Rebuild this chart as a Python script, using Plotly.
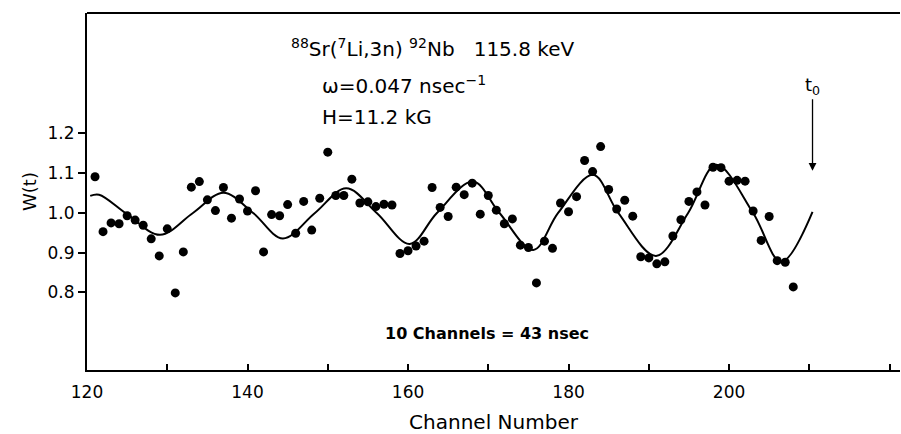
import plotly.graph_objects as go

# Measured data points W(t) vs channel number
channels = list(range(121, 209))
w_values = [
    1.091, 0.953, 0.975, 0.973, 0.993, 0.982, 0.969, 0.935, 0.892, 0.960,  # 121-130
    0.799, 0.902, 1.065, 1.079, 1.033, 1.006, 1.064, 0.987, 1.035, 1.005,  # 131-140
    1.056, 0.902, 0.996, 0.993, 1.021, 0.949, 1.029, 0.957, 1.037, 1.153,  # 141-150
    1.044, 1.044, 1.085, 1.025, 1.028, 1.016, 1.022, 1.020, 0.898, 0.905,  # 151-160
    0.917, 0.929, 1.064, 1.014, 0.991, 1.065, 1.046, 1.075, 0.997, 1.044,  # 161-170
    1.007, 0.973, 0.985, 0.919, 0.913, 0.824, 0.929, 0.911, 1.025, 1.003,  # 171-180
    1.041, 1.132, 1.104, 1.167, 1.059, 1.010, 1.032, 0.992, 0.890, 0.887,  # 181-190
    0.872, 0.877, 0.942, 0.983, 1.029, 1.053, 1.020, 1.115, 1.114, 1.080,  # 191-200
    1.082, 1.080, 1.005, 0.931, 0.991, 0.880, 0.876, 0.814,                # 201-208
]

# Fitted curve, read at extrema and crossings
fit_ch = [120.4, 121.5, 125.0, 129.1, 133.2, 137.0, 140.7, 144.4, 148.4, 152.3,
          156.1, 160.2, 163.6, 168.1, 171.4, 175.6, 178.7, 183.05, 186.2, 190.9,
          194.9, 198.4, 203.0, 206.5, 210.4]
fit_w = [1.043, 1.046, 0.997, 0.945, 1.0, 1.051, 1.0, 0.936, 1.0, 1.062,
         1.0, 0.922, 1.0, 1.079, 1.0, 0.907, 1.0, 1.096, 1.0, 0.892,
         1.0, 1.121, 1.0, 0.877, 1.003]

x_tickvals = [120, 130, 140, 150, 160, 170, 180, 190, 200, 210, 220]
x_ticktext = ["120", "", "140", "", "160", "", "180", "", "200", "", ""]
y_tickvals = [0.8, 0.9, 1.0, 1.1, 1.2]
y_ticktext = ["0.8", "0.9", "1.0", "1.1", "1.2"]

t0_channel = 210.4
t0_tip = 1.106

FONT = "DejaVu Sans"

fig = go.Figure()
fig.add_trace(go.Scatter(
    x=fit_ch, y=fit_w, mode="lines",
    line=dict(color="black", width=2, shape="spline", smoothing=1.0),
    hoverinfo="skip", showlegend=False,
))
fig.add_trace(go.Scatter(
    x=channels, y=w_values, mode="markers",
    marker=dict(color="black", size=9),
    showlegend=False,
))

fig.update_layout(
    width=901, height=434,
    margin=dict(l=87, r=1, t=13, b=64, autoexpand=False),
    paper_bgcolor="white", plot_bgcolor="white",
    font=dict(family=FONT, color="black", size=17),
    xaxis=dict(
        range=[120, 221.3], tickvals=x_tickvals, ticktext=x_ticktext,
        ticks="inside", ticklen=6, tickwidth=1.5, tickcolor="black",
        showline=True, linewidth=2, linecolor="black",
        showgrid=False, zeroline=False, ticklabelstandoff=6, automargin=False,
        tickfont=dict(size=17),
        title=dict(text="Channel Number", font=dict(size=20), standoff=14),
    ),
    yaxis=dict(
        range=[0.605, 1.503], tickvals=y_tickvals, ticktext=y_ticktext,
        ticks="outside", ticklen=7, tickwidth=1.5, tickcolor="black",
        showline=True, linewidth=2, linecolor="black",
        showgrid=False, zeroline=False, automargin=False,
        tickfont=dict(size=17),
        title=dict(text="W(t)", font=dict(size=18), standoff=6),
    ),
    shapes=[dict(type="line", xref="paper", yref="paper", x0=0, x1=1, y0=1, y1=1,
                 line=dict(color="black", width=2))],
)

nb = "\u00a0"
fig.add_annotation(xref="paper", yref="paper", x=0.2485, y=0.902, xanchor="left", yanchor="middle",
                   text="<sup>88</sup>Sr(<sup>7</sup>Li,3n)" + nb + "<sup>92</sup>Nb" + nb * 3 + "115.8" + nb + "keV",
                   showarrow=False, font=dict(size=20))
fig.add_annotation(xref="paper", yref="paper", x=0.2866, y=0.798, xanchor="left", yanchor="middle",
                   text="ω=0.047" + nb + "nsec<sup>−1</sup>", showarrow=False, font=dict(size=20))
fig.add_annotation(xref="paper", yref="paper", x=0.2866, y=0.709, xanchor="left", yanchor="middle",
                   text="H=11.2" + nb + "kG", showarrow=False, font=dict(size=20))
fig.add_annotation(xref="paper", yref="paper", x=0.4914, y=0.1036, xanchor="center", yanchor="middle",
                   text="<b>10" + nb + "Channels" + nb + "=" + nb + "43" + nb + "nsec</b>", showarrow=False,
                   font=dict(size=16))
fig.add_annotation(x=t0_channel, y=t0_tip, xref="x", yref="y", text="t<sub>0</sub>",
                   showarrow=True, arrowhead=2, arrowsize=1.2, arrowwidth=1.3, arrowcolor="black",
                   ax=0, ay=-85, font=dict(size=18))

fig.write_html("out.html", config={"displayModeBar": False},
               post_script="document.body.style.margin='0';document.body.style.overflow='hidden';")
